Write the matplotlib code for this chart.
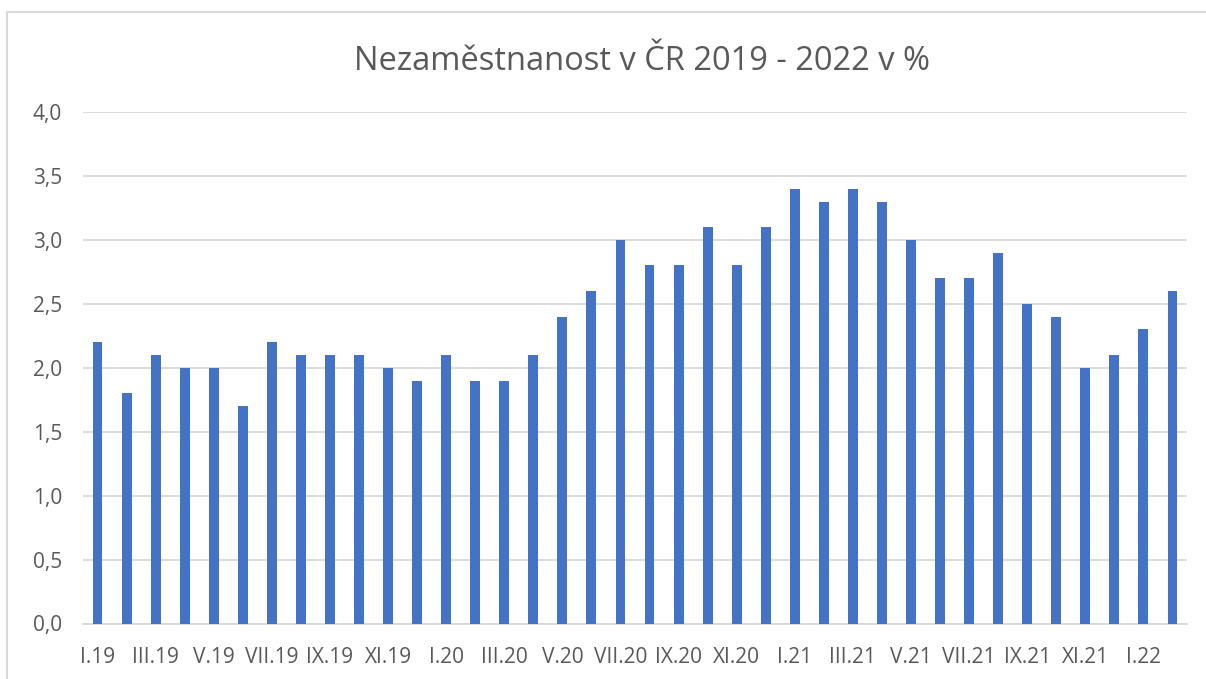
import matplotlib.pyplot as plt
from matplotlib.patches import Rectangle

months = ["I", "II", "III", "IV", "V", "VI", "VII", "VIII", "IX", "X", "XI", "XII"]
years = ["19", "20", "21", "22"]
labels = [f"{m}.{y}" for y in years for m in months][:38]

unemployment = [2.2, 1.8, 2.1, 2.0, 2.0, 1.7, 2.2, 2.1, 2.1, 2.1, 2.0, 1.9,
                2.1, 1.9, 1.9, 2.1, 2.4, 2.6, 3.0, 2.8, 2.8, 3.1, 2.8, 3.1,
                3.4, 3.3, 3.4, 3.3, 3.0, 2.7, 2.7, 2.9, 2.5, 2.4, 2.0, 2.1,
                2.3, 2.6]
y_ticks = [0.0, 0.5, 1.0, 1.5, 2.0, 2.5, 3.0, 3.5, 4.0]

plt.rcParams["font.family"] = ["Open Sans", "DejaVu Sans"]
text_color = "#595959"
grid_color = "#D9D9D9"

fig = plt.figure(figsize=(12.06, 6.79), dpi=100)
W, H = 1206, 679
ax = fig.add_axes([83 / W, 1 - 623.5 / H, (1187 - 83) / W, (623.5 - 112) / H])

x = list(range(len(unemployment)))
ax.bar(x, unemployment, width=0.34, color="#4472C4", zorder=3)

ax.set_xlim(-0.5, len(unemployment) - 0.5)
ax.set_ylim(0, 4)
ax.set_yticks(y_ticks)
ax.set_yticklabels([f"{v:.1f}".replace(".", ",") for v in y_ticks])
ax.set_xticks(x[::2])
ax.set_xticklabels(labels[::2])

ax.grid(axis="y", color=grid_color, linewidth=1.3, zorder=0)
for side in ["left", "right", "top"]:
    ax.spines[side].set_visible(False)
ax.spines["bottom"].set_color(grid_color)
ax.spines["bottom"].set_linewidth(1.3)
ax.tick_params(axis="both", length=0, labelsize=15, colors=text_color)
ax.tick_params(axis="x", pad=17)
ax.tick_params(axis="y", pad=15)

fig.text(642 / W, 1 - 62 / H, "Nezaměstnanost v ČR 2019 - 2022 v %",
         ha="center", va="center", fontsize=23.5, color=text_color)

# outer chart frame, cut off at right and bottom like the screenshot
fig.patches.append(Rectangle((7 / W, -0.05), 1.1, 1 - 12 / H + 0.05,
                             transform=fig.transFigure, fill=False,
                             edgecolor=grid_color, linewidth=1.5))

fig.savefig("out.png", dpi=100)
